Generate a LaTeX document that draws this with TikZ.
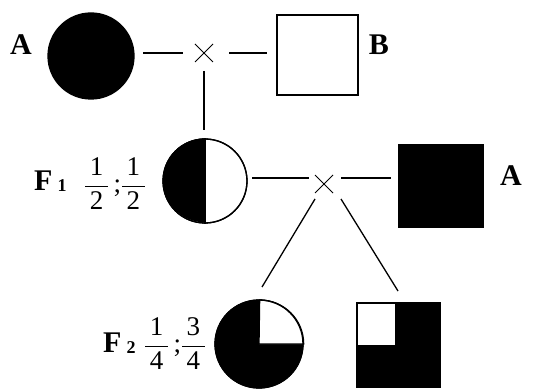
\documentclass[tikz,border=0pt]{standalone}
\usepackage{amsmath}
\usepackage{fontspec}
\setmainfont{Liberation Serif}
\usetikzlibrary{calc}
\tikzset{
  ln/.style={line width=1.3pt, black},
  shp/.style={line width=1.3pt, draw=black, inner sep=0pt},
  lbl/.style={font=\fontsize{30}{32}\selectfont\bfseries, inner sep=0pt},
  frc/.style={font=\fontsize{27}{30}\selectfont, inner sep=0pt},
  crossmark/.style={line width=1pt, black}
}
\newcommand{\fr}[2]{$\dfrac{\text{\,#1\,}}{\text{\,#2\,}}$}
\begin{document}
\begin{tikzpicture}[x=1pt,y=1pt]
\useasboundingbox[fill=white] (0,0) rectangle (539,389);
% generation P
\node[shp, circle, fill=black, minimum size=86pt] (pA) at (91,333) {};
\node[lbl] (lA) at (21,344) {A};
\node[shp, rectangle, minimum width=81pt, minimum height=80pt] (pB) at (317.5,334) {};
\node[lbl] (lB) at (379,344) {B};
\coordinate (x1) at (204,336);
\draw[crossmark] ($(x1)+(-9,9)$) -- ($(x1)+(9,-9)$) ($(x1)+(-9,-9)$) -- ($(x1)+(9,9)$);
\coordinate (a1) at (143,336); \coordinate (a2) at (183,336);
\coordinate (b1) at (229,336); \coordinate (b2) at (267,336);
\coordinate (v1) at (204,318); \coordinate (v2) at (204,259);
\draw[ln] (a1) -- (a2);
\draw[ln] (b1) -- (b2);
\draw[ln] (v1) -- (v2);
% generation F1
\node[shp, circle, minimum size=84pt] (f1) at (205,208) {};
\fill[black] (f1.north) arc[start angle=90, end angle=270, radius=42pt] -- cycle;
\draw[line width=1.3pt] (f1.north) -- (f1.south);
\draw[line width=1.3pt] (f1) circle[radius=42pt];
\node[lbl, anchor=base west] (lF1) at (34,198) {F\,\raisebox{-1pt}{\fontsize{18}{18}\selectfont 1}};
\node[frc] (q1) at (115,205) {\fr{1}{2}\,;\fr{1}{2}};
\node[shp, rectangle, fill=black, minimum width=84pt, minimum height=82pt] (sA) at (441,203) {};
\node[lbl] (lA2) at (511,213) {A};
\coordinate (x2) at (324,205);
\draw[crossmark] ($(x2)+(-9,9)$) -- ($(x2)+(9,-9)$) ($(x2)+(-9,-9)$) -- ($(x2)+(9,9)$);
\coordinate (c1) at (252,211); \coordinate (c2) at (309,211);
\coordinate (d1) at (341,211); \coordinate (d2) at (391,211);
\draw[ln] (c1) -- (c2);
\draw[ln] (d1) -- (d2);
\coordinate (e1) at (315,190); \coordinate (e2) at (262,102);
\coordinate (g1) at (341,190); \coordinate (g2) at (398,98);
\draw[ln] (e1) -- (e2);
\draw[ln] (g1) -- (g2);
% generation F2
\node[shp, circle, fill=black, minimum size=88pt] (f2) at (259,45) {};
\fill[white] (f2.center) -- (f2.east) arc[start angle=0, end angle=90, radius=44pt] -- cycle;
\draw[line width=1.3pt] (f2.center) -- (f2.east) arc[start angle=0, end angle=90, radius=44pt] -- cycle;
\draw[line width=1.3pt] (f2) circle[radius=44pt];
\node[lbl, anchor=base west] (lF2) at (103,37) {F\,\raisebox{-1pt}{\fontsize{18}{18}\selectfont 2}};
\node[frc] (q2) at (175,45) {\fr{1}{4}\,;\fr{3}{4}};
\node[shp, rectangle, fill=black, minimum width=83pt, minimum height=84pt] (s2) at (398.5,44) {};
\draw[line width=1.3pt, fill=white] (357,43) rectangle (396,86);
\end{tikzpicture}
\end{document}
